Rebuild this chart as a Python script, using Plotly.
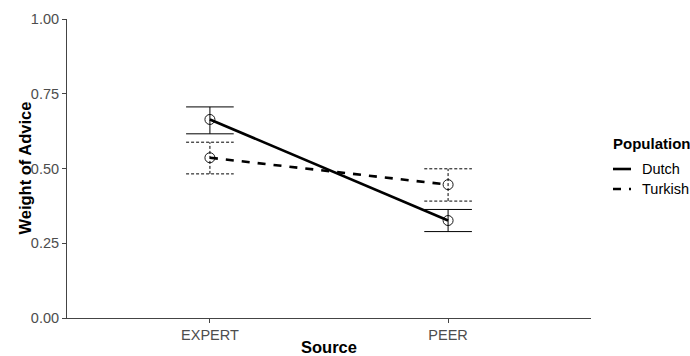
import plotly.graph_objects as go

# ---- data ----
sources = ["EXPERT", "PEER"]
populations = ["Dutch", "Turkish"]
dutch_mean = [0.664, 0.326]
dutch_lower = [0.616, 0.289]
dutch_upper = [0.706, 0.363]
turkish_mean = [0.536, 0.446]
turkish_lower = [0.482, 0.391]
turkish_upper = [0.588, 0.499]
y_ticks = [0.0, 0.25, 0.5, 0.75, 1.0]
y_tick_labels = ["0.00", "0.25", "0.50", "0.75", "1.00"]

FONT = "Liberation Sans, Arial, sans-serif"
W, H = 690, 356
L, R, T, B = 67, 99, 19, 38
PW, PH = W - L - R, H - T - B

xpos = list(range(len(sources)))
cap = 0.1

series = [
    (populations[0], dutch_mean, dutch_lower, dutch_upper, "solid", "solid"),
    (populations[1], turkish_mean, turkish_lower, turkish_upper, "8px,8px", "3px,2px"),
]

fig = go.Figure()
for name, mean, lo, hi, ldash, edash in series:
    ex, ey = [], []
    for x, m, a, b in zip(xpos, mean, lo, hi):
        ex += [x, x, None, x - cap, x + cap, None, x - cap, x + cap, None]
        ey += [a, b, None, b, b, None, a, a, None]
    fig.add_trace(go.Scatter(x=ex, y=ey, mode="lines",
                             line=dict(color="black", width=1, dash=edash),
                             showlegend=False, hoverinfo="skip"))
    fig.add_trace(go.Scatter(x=xpos, y=mean, mode="lines",
                             line=dict(color="black", width=2.6, dash=ldash),
                             showlegend=False))
    fig.add_trace(go.Scatter(x=xpos, y=mean, mode="markers",
                             marker=dict(symbol="circle-open", size=10,
                                         color="black", line=dict(width=0.9)),
                             showlegend=False))

def px2paper_x(px):
    return (px - L) / PW

def px2paper_y(py):
    return (H - B - py) / PH

# manual legend
fig.add_annotation(text="<b>Population</b>", x=px2paper_x(611), y=px2paper_y(143),
                   xref="paper", yref="paper", xanchor="left", yanchor="middle",
                   showarrow=False, font=dict(family=FONT, size=15, color="black"))
for i, (name, ldash) in enumerate([(populations[0], "solid"), (populations[1], "8px,8px")]):
    yy = 169 + i * 20
    fig.add_shape(type="line", xref="paper", yref="paper",
                  x0=px2paper_x(613), x1=px2paper_x(631),
                  y0=px2paper_y(yy), y1=px2paper_y(yy),
                  line=dict(color="black", width=2.6, dash=ldash))
    fig.add_annotation(text=name, x=px2paper_x(640), y=px2paper_y(yy),
                       xref="paper", yref="paper", xanchor="left", yanchor="middle",
                       showarrow=False, font=dict(family=FONT, size=14.5, color="black"))

# axis titles
fig.add_annotation(text="<b>Source</b>", x=0.5, y=px2paper_y(347), xref="paper", yref="paper",
                   xanchor="center", yanchor="middle", showarrow=False,
                   font=dict(family=FONT, size=16.5, color="black"))
fig.add_annotation(text="<b>Weight of Advice</b>", x=px2paper_x(24), y=0.5, xref="paper",
                   yref="paper", xanchor="center", yanchor="middle", textangle=-90,
                   showarrow=False, font=dict(family=FONT, size=16.5, color="black"))

fig.update_layout(
    width=W, height=H,
    margin=dict(l=L, r=R, t=T, b=B, pad=0),
    paper_bgcolor="white", plot_bgcolor="white",
    showlegend=False,
    font=dict(family=FONT),
    xaxis=dict(range=[-0.6, 1.6], tickvals=xpos, ticktext=sources,
               showgrid=False, zeroline=False, showline=True, linecolor="#444",
               linewidth=1, ticks="outside", ticklen=4, tickcolor="#444",
               tickfont=dict(family=FONT, size=14.5, color="#4d4d4d")),
    yaxis=dict(range=[0, 1], tickvals=y_ticks, ticktext=y_tick_labels,
               showgrid=False, zeroline=False, showline=True, linecolor="#444",
               linewidth=1, ticks="outside", ticklen=4, tickcolor="#444",
               tickfont=dict(family=FONT, size=14.5, color="#4d4d4d")),
)

fig.write_html("out.html", config={"displayModeBar": False},
               post_script="document.body.style.margin='0';document.body.style.overflow='hidden';")
